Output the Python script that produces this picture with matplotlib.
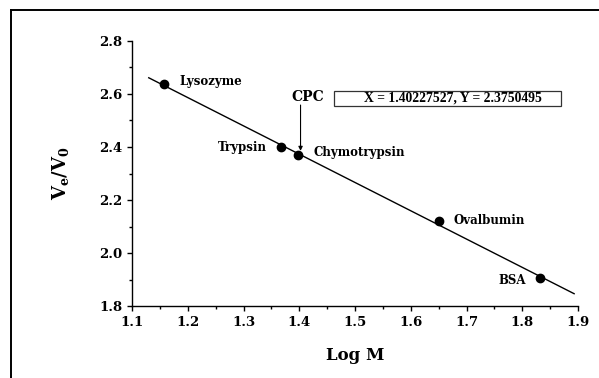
import numpy as np
import matplotlib
matplotlib.use("Agg")
import matplotlib.pyplot as plt
from matplotlib.lines import Line2D
from matplotlib.patches import Rectangle
from matplotlib.ticker import MultipleLocator

# Calibration standards: log molecular weight vs elution ratio
proteins = ["Lysozyme", "Trypsin", "Chymotrypsin", "Ovalbumin", "BSA"]
log_m = [1.157, 1.367, 1.398, 1.651, 1.831]
ve_v0 = [2.637, 2.399, 2.371, 2.120, 1.908]

# sample
cpc_x = 1.40227527
cpc_y = 2.3750495

fit_range = [1.13, 1.893]

plt.rcParams["font.family"] = "DejaVu Serif"
plt.rcParams["font.weight"] = "bold"
plt.rcParams["mathtext.fontset"] = "dejavuserif"

fig = plt.figure(figsize=(5.99, 3.78), dpi=100)
ax = fig.add_axes([0.2204, 0.1892, 0.7446, 0.7031])

slope, icpt = np.polyfit(log_m, ve_v0, 1)
xf = np.array(fit_range)
ax.plot(xf, slope * xf + icpt, color="black", lw=1.0)
ax.plot(log_m, ve_v0, "o", color="black", ms=6)

# label offsets (points) and alignment for each standard
offsets = {
    "Lysozyme": (11.5, 1.7, "left"),
    "Trypsin": (-10, 0, "right"),
    "Chymotrypsin": (10.8, 1.9, "left"),
    "Ovalbumin": (10, 1, "left"),
    "BSA": (-10, -2, "right"),
}
for name, x, y in zip(proteins, log_m, ve_v0):
    dx, dy, ha = offsets[name]
    ax.annotate(name, (x, y), xytext=(dx, dy), textcoords="offset points",
                ha=ha, va="center", fontsize=8.5, fontweight="bold")

# CPC marker arrow and label
ax.annotate("", xy=(cpc_x, cpc_y), xytext=(0, 35), textcoords="offset points",
            arrowprops=dict(arrowstyle="-|>", color="black", lw=0.8,
                            mutation_scale=6, shrinkA=0, shrinkB=2))
ax.annotate("CPC", (cpc_x, cpc_y), xytext=(5, 41), textcoords="offset points",
            ha="center", va="center", fontsize=10, fontweight="bold")

ax.add_patch(Rectangle((0.4536, 0.7543), 0.5076, 0.0576, transform=ax.transAxes,
                       fill=False, edgecolor="#333333", lw=0.9, clip_on=False))
ax.text(0.7197, 0.7833, f"X = {cpc_x}, Y = {cpc_y}", transform=ax.transAxes,
        ha="center", va="center", fontsize=9.8, fontweight="bold",
        family="Liberation Serif")

ax.set_xlim(1.1, 1.9)
ax.set_ylim(1.8, 2.8)
ax.xaxis.set_major_locator(MultipleLocator(0.1))
ax.xaxis.set_minor_locator(MultipleLocator(0.05))
ax.yaxis.set_major_locator(MultipleLocator(0.2))
ax.yaxis.set_minor_locator(MultipleLocator(0.1))
ax.spines["top"].set_visible(False)
ax.spines["right"].set_visible(False)
for s in ("left", "bottom"):
    ax.spines[s].set_linewidth(1.0)
ax.tick_params(which="major", direction="out", length=3.5, width=1.0,
               labelsize=9.5, pad=3.5)
ax.tick_params(which="minor", direction="out", length=2.2, width=1.0)
for lbl in ax.get_xticklabels() + ax.get_yticklabels():
    lbl.set_fontweight("bold")

ax.set_xlabel("Log M", fontsize=12, fontweight="bold", labelpad=13)
ax.set_ylabel(r"$\mathbf{V_e/V_0}$", fontsize=13, labelpad=20)

# outer frame (top and left edges)
fig.add_artist(Line2D([11 / 599, 11 / 599], [0, 368 / 378], color="black",
                      lw=1.4, transform=fig.transFigure))
fig.add_artist(Line2D([11 / 599, 1], [368 / 378, 368 / 378], color="black",
                      lw=1.4, transform=fig.transFigure))

fig.savefig("out.png", dpi=100)
